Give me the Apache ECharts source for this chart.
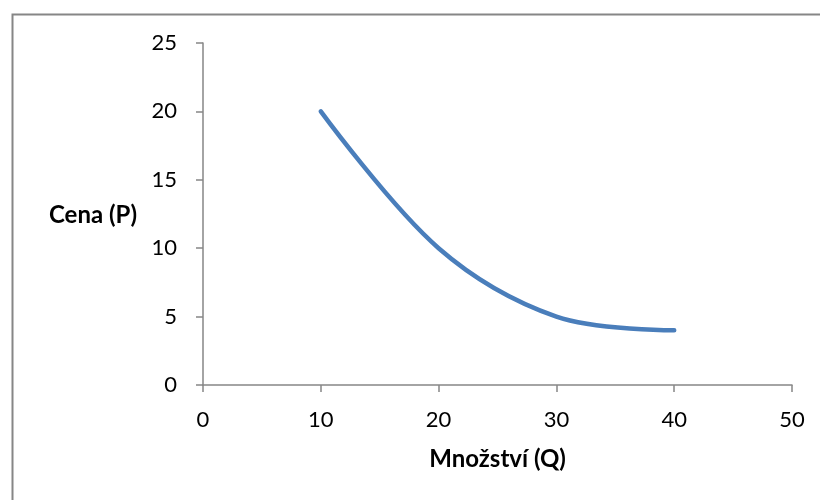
<!DOCTYPE html>
<html><head><meta charset="utf-8">
<script src="https://cdn.jsdelivr.net/npm/echarts@6/dist/echarts.min.js"></script>
<style>html,body{margin:0;padding:0;background:#fff}#c{width:820px;height:500px}</style>
</head><body><div id="c"></div>
<script>
const quantity = [10, 20, 30, 40];
const price = [20, 10, 5, 4];
const xTicks = [0, 10, 20, 30, 40, 50];
const yTicks = [0, 5, 10, 15, 20, 25];
const xTitle = 'Množství (Q)';
const yTitle = 'Cena (P)';

const chart = echarts.init(document.getElementById('c'));
const font = 'Lato, "Open Sans", sans-serif';
const axisCol = '#868686';
chart.setOption({
  animation: false,
  backgroundColor: '#fff',
  textStyle: { fontFamily: font },
  graphic: [
    { type: 'rect', left: 10, top: 12, shape: { width: 830, height: 510 }, style: { fill: 'none', stroke: axisCol, lineWidth: 2 }, silent: true },
    { type: 'text', left: 49, top: 203, style: { text: yTitle, fontFamily: font, fontWeight: 'bold', fontSize: 24, fill: '#000' } }
  ],
  grid: { left: 203, right: 28, top: 43, bottom: 115 },
  xAxis: {
    type: 'value', min: xTicks[0], max: xTicks[xTicks.length - 1], interval: 10,
    name: xTitle, nameLocation: 'middle', nameGap: 62,
    nameTextStyle: { fontFamily: font, fontWeight: 'bold', fontSize: 24, color: '#000' },
    axisLine: { show: true, onZero: false, lineStyle: { color: axisCol, width: 1.5 } },
    axisTick: { show: true, length: 7, lineStyle: { color: axisCol, width: 1.5 } },
    axisLabel: { fontSize: 22, color: '#000', margin: 24, fontFamily: font },
    splitLine: { show: false }
  },
  yAxis: {
    type: 'value', min: yTicks[0], max: yTicks[yTicks.length - 1], interval: 5,
    axisLine: { show: true, lineStyle: { color: axisCol, width: 1.5 } },
    axisTick: { show: true, length: 7, lineStyle: { color: axisCol, width: 1.5 } },
    axisLabel: { fontSize: 22, color: '#000', margin: 26, fontFamily: font },
    splitLine: { show: false }
  },
  series: [{
    type: 'line',
    data: quantity.map((q, i) => [q, price[i]]),
    smooth: 0.35,
    showSymbol: false,
    lineStyle: { color: '#4A7EBB', width: 4.5, cap: 'round' },
    itemStyle: { color: '#4A7EBB' }
  }]
});
</script>
</body></html>
